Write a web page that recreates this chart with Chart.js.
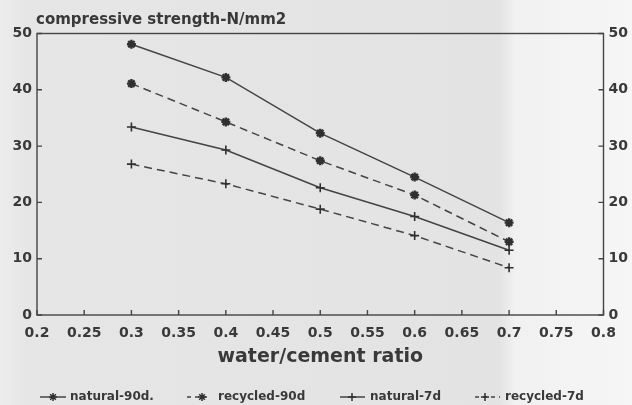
<!DOCTYPE html>
<html>
<head>
<meta charset="utf-8">
<script src="https://cdn.jsdelivr.net/npm/chart.js@4.4.1/dist/chart.umd.min.js"></script>
<style>
  html, body { margin: 0; padding: 0; background: #e6e6e6; }
  #wrap { width: 632px; height: 405px; position: relative; }
</style>
</head>
<body>
<div id="wrap"><canvas id="c" width="632" height="405"></canvas></div>
<script>
// water/cement ratios tested
const wcRatio = [0.3, 0.4, 0.5, 0.6, 0.7];
// compressive strength, N/mm2
const natural90 = [48.1, 42.2, 32.3, 24.5, 16.4];
const recycled90 = [41.1, 34.3, 27.4, 21.3, 13.0];
const natural7 = [33.4, 29.3, 22.6, 17.5, 11.5];
const recycled7 = [26.8, 23.3, 18.8, 14.1, 8.4];
const seriesNames = ['natural-90d.', 'recycled-90d', 'natural-7d', 'recycled-7d'];
// axis ticks
const xTickValues = [0.2, 0.25, 0.3, 0.35, 0.4, 0.45, 0.5, 0.55, 0.6, 0.65, 0.7, 0.75, 0.8];
const yTickValues = [0, 10, 20, 30, 40, 50];
const yTitle = 'compressive strength-N/mm2';
const xTitle = 'water/cement ratio';

const INK = '#393939';
const LINE = '#444444';
const FONT = "'DejaVu Sans', sans-serif";

function pts(values) {
  return wcRatio.map((x, i) => ({ x: x, y: values[i] }));
}

function series(label, values, style, dashed) {
  return {
    label: label,
    data: pts(values),
    borderColor: LINE,
    backgroundColor: LINE,
    borderWidth: 1.5,
    borderDash: dashed ? [8, 5] : [],
    pointStyle: style,
    pointRadius: 4.5,
    pointBorderWidth: style === 'star' ? 2.4 : 1.6,
    pointBorderColor: '#303030',
    pointHoverRadius: 4.5,
    tension: 0,
    fill: false
  };
}

const datasets = [
  series(seriesNames[0], natural90, 'star', false),
  series(seriesNames[1], recycled90, 'star', true),
  series(seriesNames[2], natural7, 'cross', false),
  series(seriesNames[3], recycled7, 'cross', true)
];

function fmtX(v) {
  return String(parseFloat(Number(v).toFixed(2)));
}

// page backdrop, plot frame, inward tick marks, heading and key
const decor = {
  id: 'decor',
  beforeDraw(chart) {
    const { ctx, width, height } = chart;
    ctx.save();
    const g = ctx.createLinearGradient(0, 0, width, 0);
    g.addColorStop(0, '#ededed');
    g.addColorStop(0.04, '#e6e6e6');
    g.addColorStop(0.79, '#e3e3e3');
    g.addColorStop(0.815, '#f1f1f1');
    g.addColorStop(1, '#f6f6f6');
    ctx.fillStyle = g;
    ctx.fillRect(0, 0, width, height);
    ctx.restore();
  },
  afterDraw(chart) {
    const { ctx, chartArea: a } = chart;
    const xs = chart.scales.x, yl = chart.scales.y, yr = chart.scales.y2;
    ctx.save();
    ctx.strokeStyle = LINE;
    ctx.lineWidth = 1.4;
    ctx.setLineDash([]);
    ctx.strokeRect(a.left, a.top, a.right - a.left, a.bottom - a.top);
    ctx.beginPath();
    xTickValues.forEach(v => {
      const px = xs.getPixelForValue(v);
      ctx.moveTo(px, a.bottom);
      ctx.lineTo(px, a.bottom - 5);
    });
    yTickValues.forEach(v => {
      const pl = yl.getPixelForValue(v);
      ctx.moveTo(a.left, pl);
      ctx.lineTo(a.left + 5, pl);
      const pr = yr.getPixelForValue(v);
      ctx.moveTo(a.right, pr);
      ctx.lineTo(a.right - 5, pr);
    });
    ctx.stroke();

    // heading above the plot
    ctx.fillStyle = INK;
    ctx.font = "bold 15px " + FONT;
    ctx.textAlign = 'left';
    ctx.textBaseline = 'middle';
    ctx.fillText(yTitle, a.left - 1, 20);

    // key along the bottom
    const slots = [
      { l0: 40, l1: 66, m: 53, t: 70 },
      { l0: 187, l1: 210, m: 202, t: 218 },
      { l0: 340, l1: 365, m: 352, t: 370 },
      { l0: 475, l1: 500, m: 485, t: 505 }
    ];
    const ky = 397;
    chart.data.datasets.forEach((ds, i) => {
      const s = slots[i];
      ctx.strokeStyle = ds.borderColor;
      ctx.lineWidth = ds.borderWidth;
      ctx.setLineDash(ds.borderDash.length ? [4, 4] : []);
      ctx.beginPath();
      ctx.moveTo(s.l0, ky);
      ctx.lineTo(s.l1, ky);
      ctx.stroke();
      ctx.setLineDash([]);
      ctx.strokeStyle = ds.pointBorderColor;
      Chart.helpers.drawPoint(ctx, {
        pointStyle: ds.pointStyle,
        radius: 4,
        borderWidth: ds.pointBorderWidth,
        rotation: 0
      }, s.m, ky);
      ctx.fillStyle = INK;
      ctx.font = "bold 12px " + FONT;
      ctx.textAlign = 'left';
      ctx.textBaseline = 'middle';
      ctx.fillText(ds.label, s.t, ky);
    });
    ctx.restore();
  }
};

const tickFont = { family: FONT, size: 14, weight: 'bold' };

new Chart(document.getElementById('c'), {
  type: 'line',
  data: { datasets: datasets },
  plugins: [decor],
  options: {
    responsive: false,
    animation: false,
    events: [],
    layout: { padding: { top: 33.5, left: 0, right: 0, bottom: 0 } },
    plugins: { legend: { display: false }, tooltip: { enabled: false }, title: { display: false } },
    scales: {
      x: {
        type: 'linear',
        position: 'bottom',
        min: 0.2,
        max: 0.8,
        afterBuildTicks(s) { s.ticks = xTickValues.map(v => ({ value: v })); },
        afterFit(s) { s.height = 90; },
        grid: { display: false, drawTicks: false },
        border: { display: false },
        ticks: { color: INK, font: tickFont, padding: 10, maxRotation: 0, autoSkip: false,
                 callback: v => fmtX(v) },
        title: { display: true, text: xTitle, color: INK,
                 font: { family: FONT, size: 19, weight: 'bold' },
                 padding: { top: 0, bottom: 37 } }
      },
      y: {
        position: 'left',
        min: 0,
        max: 50,
        afterBuildTicks(s) { s.ticks = yTickValues.map(v => ({ value: v })); },
        afterFit(s) { s.width = 37; },
        grid: { display: false, drawTicks: false },
        border: { display: false },
        ticks: { color: INK, font: tickFont, padding: 5 }
      },
      y2: {
        position: 'right',
        min: 0,
        max: 50,
        afterBuildTicks(s) { s.ticks = yTickValues.map(v => ({ value: v })); },
        afterFit(s) { s.width = 28.5; },
        grid: { display: false, drawTicks: false },
        border: { display: false },
        ticks: { color: INK, font: tickFont, padding: 5 }
      }
    }
  }
});
</script>
</body>
</html>
